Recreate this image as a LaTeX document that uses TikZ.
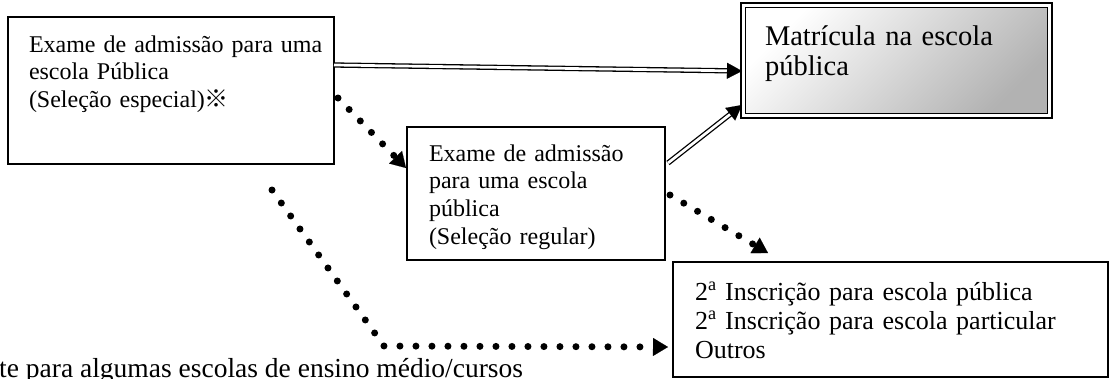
\documentclass[tikz,border=0pt]{standalone}
\usepackage{fontspec}
\setmainfont{Liberation Serif}
\newfontfamily\cjk{Noto Sans CJK SC}
\usetikzlibrary{calc,arrows.meta}
\tikzset{
  box/.style={draw, line width=1.3pt, inner sep=0pt, outer sep=0pt, anchor=north west},
  lbl/.style={inner sep=0pt, outer sep=0pt, anchor=base west, align=left, text width=440pt},
  fsmall/.style={font=\fontsize{24pt}{27.7pt}\selectfont},
  fbox4/.style={font=\fontsize{26pt}{29pt}\selectfont},
  fbig/.style={font=\fontsize{28.5pt}{30.5pt}\selectfont},
  dline/.style={line width=1.3pt, double=white, double distance=2.7pt},
  dhead/.style={line width=0.1pt, -{Triangle[length=15pt,width=16pt]}},
  dotline/.style={line width=7pt, line cap=round, dash pattern=on 0pt off 16pt},
  dothead/.style={line width=0.1pt, -{Triangle[length=15pt,width=18pt]}},
}
\begin{document}
\begin{tikzpicture}[x=1pt,y=-1pt]
\useasboundingbox (0,0) rectangle (1112,378);
\clip (0,0) rectangle (1112,378);

% boxes
\node[box, minimum width=326pt, minimum height=147pt] (b1) at (8,17) {};
\node[box, minimum width=258pt, minimum height=133pt] (b2) at (407,127) {};
\node[box, minimum width=311pt, minimum height=115pt] (b3) at (741,3) {};
\path[shade, top color=white, bottom color=black!30, shading angle=45, draw, line width=0.9pt]
  ($(b3.north west)+(4.5,4.5)$) rectangle ($(b3.south east)+(-4.5,-4.5)$);
\node[box, minimum width=435pt, minimum height=115pt] (b4) at (673,262) {};

% texts
\node[lbl, fsmall] (t1) at ($(b1.north west)+(21,35)$)
  {Exame de admissão para uma\\escola Pública\\(Seleção especial){\cjk ※}};
\node[lbl, fsmall] (t2) at ($(b2.north west)+(22,34)$)
  {Exame de admissão\\para uma escola\\pública\\(Seleção regular)};
\node[lbl, fbig] (t3) at ($(b3.north west)+(24,42)$)
  {Matrícula na escola\\pública};
\node[lbl, fbox4] (t4) at ($(b4.north west)+(22,38)$)
  {2\textsuperscript{a} Inscrição para escola pública\\2\textsuperscript{a} Inscrição para escola particular\\Outros};
\node[inner sep=0pt, anchor=base west, font=\fontsize{27.5pt}{30pt}\selectfont] (foot) at (-1,377)
  {te para algumas escolas de ensino médio/cursos};

% connector end points
\coordinate (s1) at ($(b1.north east)+(0,48)$);
\coordinate (e1) at ($(b3.north west)+(1,68)$);
\coordinate (s2) at ($(b2.north east)+(3,36)$);
\coordinate (e2) at ($(b3.south west)+(1,-13)$);
\coordinate (sd1) at ($(b1.north east)+(4,81)$);
\coordinate (ed1) at ($(b2.north west)+(-1,41)$);
\coordinate (sd2) at ($(b2.north east)+(5,68)$);
\coordinate (ed2) at ($(b4.north west)+(95,-9)$);
\coordinate (sd3) at ($(b1.south west)+(264,26)$);
\coordinate (cd3) at ($(b1.south west)+(376,182)$);
\coordinate (ed3) at ($(b4.north west)+(-5,85)$);

% double connectors
\draw[dline] (s1) -- ($(e1)!14pt!(s1)$);
\draw[dhead] ($(e1)!15pt!(s1)$) -- (e1);
\draw[dline] (s2) -- ($(e2)!14pt!(s2)$);
\draw[dhead] ($(e2)!15pt!(s2)$) -- (e2);

% dotted connectors
\draw[dotline] (sd1) -- ($(ed1)!14pt!(sd1)$);
\draw[dothead] ($(ed1)!15pt!(sd1)$) -- (ed1);
\draw[dotline] (sd2) -- ($(ed2)!14pt!(sd2)$);
\draw[dothead] ($(ed2)!15pt!(sd2)$) -- (ed2);
\draw[dotline] (sd3) -- (cd3) -- ($(ed3)!14pt!(cd3)$);
\draw[dothead] ($(ed3)!15pt!(cd3)$) -- (ed3);
\end{tikzpicture}
\end{document}
